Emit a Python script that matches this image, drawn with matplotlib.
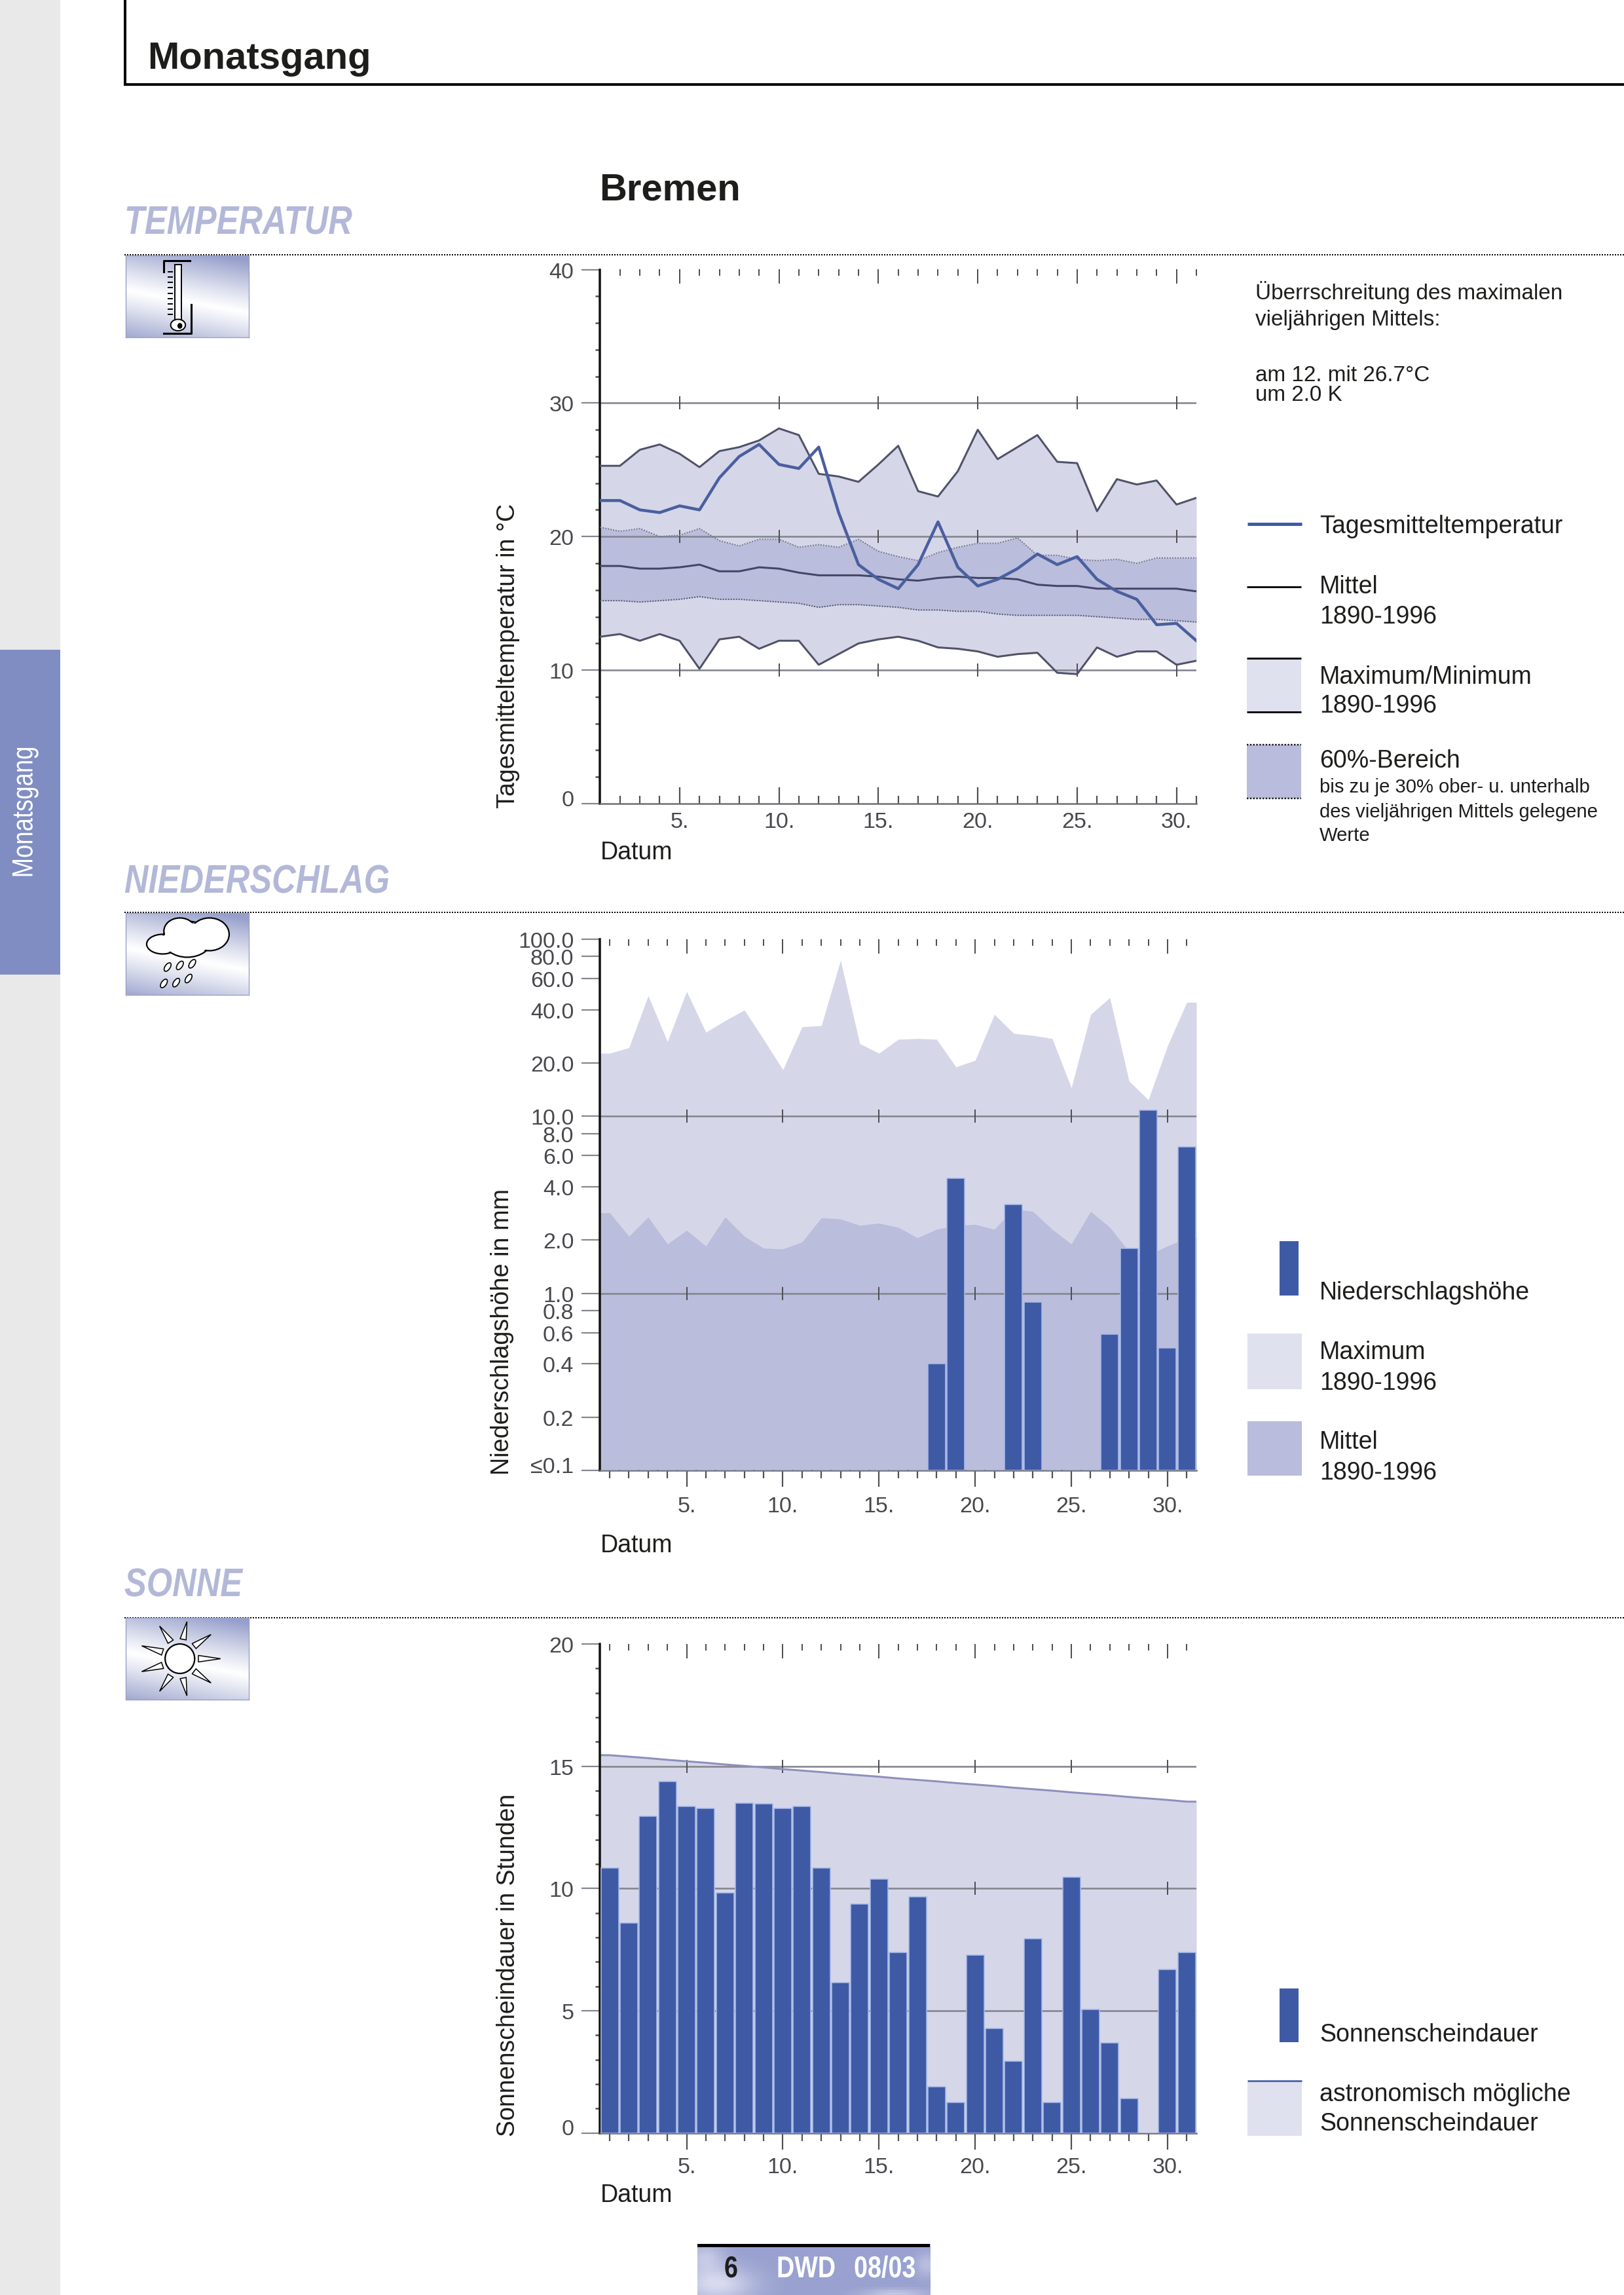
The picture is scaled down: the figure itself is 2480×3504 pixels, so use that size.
import numpy as np
import matplotlib
matplotlib.use("Agg")
import matplotlib.pyplot as plt
from matplotlib.patches import Rectangle, Ellipse, Polygon
from matplotlib.patheffects import AbstractPathEffect
from matplotlib.transforms import Affine2D, ScaledTranslation

W, H, DPI = 2480, 3505, 100
plt.rcParams["font.family"] = ["Liberation Sans", "DejaVu Sans"]

# ---------- data ----------
days = list(range(1, 32))
major_days = [5, 10, 15, 20, 25, 30]
major_labels = ["5.", "10.", "15.", "20.", "25.", "30."]

temp_max = [25.3, 25.3, 26.5, 26.9, 26.2, 25.2, 26.4, 26.7, 27.2, 28.1, 27.6, 24.7, 24.5, 24.1, 25.4, 26.8,
            23.4, 23.0, 24.9, 28.0, 25.8, 26.7, 27.6, 25.6, 25.5, 21.9, 24.3, 23.9, 24.2, 22.4, 22.9]
temp_upper = [20.7, 20.4, 20.6, 20.0, 20.1, 20.6, 19.7, 19.3, 19.8, 19.8, 19.2, 19.4, 19.2, 19.8, 18.9, 18.5,
              18.2, 18.8, 19.2, 19.5, 19.5, 19.9, 18.6, 18.6, 18.3, 18.2, 18.3, 18.0, 18.4, 18.4, 18.4]
temp_mean = [17.8, 17.8, 17.6, 17.6, 17.7, 17.9, 17.4, 17.4, 17.7, 17.6, 17.3, 17.1, 17.1, 17.1, 17.0, 16.8,
             16.7, 16.9, 17.0, 16.9, 16.9, 16.8, 16.4, 16.3, 16.3, 16.1, 16.1, 16.1, 16.1, 16.1, 15.9]
temp_lower = [15.2, 15.2, 15.1, 15.2, 15.3, 15.5, 15.3, 15.3, 15.2, 15.1, 15.0, 14.7, 14.9, 14.9, 14.8, 14.7,
              14.5, 14.5, 14.4, 14.4, 14.2, 14.1, 14.1, 14.1, 14.1, 14.0, 13.9, 13.8, 13.8, 13.7, 13.6]
temp_min = [12.5, 12.7, 12.2, 12.7, 12.2, 10.1, 12.3, 12.5, 11.6, 12.2, 12.2, 10.4, 11.2, 12.0, 12.3, 12.5,
            12.2, 11.7, 11.6, 11.4, 11.0, 11.2, 11.3, 9.8, 9.7, 11.7, 11.0, 11.4, 11.4, 10.4, 10.7]
temp_day = [22.7, 22.7, 22.0, 21.8, 22.3, 22.0, 24.4, 26.0, 26.9, 25.4, 25.1, 26.7, 21.8, 17.9, 16.8, 16.1,
            17.9, 21.1, 17.7, 16.3, 16.8, 17.6, 18.7, 17.9, 18.5, 16.8, 15.9, 15.3, 13.4, 13.5, 12.2]
temp_major = [0, 10, 20, 30, 40]
temp_minor = [2, 4, 6, 8, 12, 14, 16, 18, 22, 24, 26, 28, 32, 34, 36, 38]
temp_grid = [10, 20, 30]

rain_max = [22.7, 24.4, 48, 26.4, 50.7, 29.8, 34.7, 39.8, 27.2, 18.3, 32, 32.5, 76, 25.7, 22.7, 27.2,
            27.5, 27.2, 19, 20.7, 37.6, 29.4, 28.6, 27.5, 14.5, 37.6, 46.8, 15.8, 12.4, 25, 44]
rain_mean = [2.85, 2.1, 2.7, 1.9, 2.27, 1.85, 2.7, 2.1, 1.8, 1.78, 1.95, 2.67, 2.63, 2.42, 2.49, 2.36,
             2.06, 2.3, 2.42, 2.45, 2.3, 3.0, 2.9, 2.3, 1.9, 2.9, 2.36, 1.72, 1.65, 1.85, 2.06]
rain_day = [0.1] * 17 + [0.4, 4.45, 0.1, 0.1, 3.18, 0.89, 0.1, 0.1, 0.1, 0.59, 1.8, 10.8, 0.49, 6.7]
rain_ticks = [0.1, 0.2, 0.4, 0.6, 0.8, 1, 2, 4, 6, 8, 10, 20, 40, 60, 80, 100]
rain_labels = ["\u22640.1", "0.2", "0.4", "0.6", "0.8", "1.0", "2.0", "4.0", "6.0", "8.0", "10.0",
               "20.0", "40.0", "60.0", "80.0", "100.0"]
rain_grid = [1, 10]

sun_day = [10.85, 8.6, 12.96, 14.37, 13.35, 13.28, 9.83, 13.5, 13.46, 13.28, 13.35, 10.85, 6.14, 9.36, 10.38, 7.37,
           9.67, 1.88, 1.25, 7.27, 4.26, 2.93, 7.95, 1.25, 10.45, 5.05, 3.68, 1.4, 0, 6.69, 7.37]
sun_astro = [15.45, 15.39, 15.33, 15.26, 15.2, 15.14, 15.07, 15.01, 14.95, 14.88, 14.82, 14.76, 14.69, 14.63, 14.57,
             14.5, 14.44, 14.38, 14.31, 14.25, 14.19, 14.12, 14.06, 14.0, 13.93, 13.87, 13.81, 13.74, 13.68, 13.62,
             13.55]
sun_major = [0, 5, 10, 15, 20]
sun_minor = [1, 2, 3, 4, 6, 7, 8, 9, 11, 12, 13, 14, 16, 17, 18, 19]
sun_grid = [5, 10, 15]

# ---------- colours ----------
C_MAX = "#d5d7e9"
C_60 = "#babddb"
C_BLUE = "#3f5aa5"
C_HALO = "#a9bbe8"
C_GRID = "#85858f"
C_TICK = "#4f4f55"
C_LAB = "#47474c"
C_HEAD = "#b3b8d8"
C_LEG1 = "#e0e1ee"
C_LEG2 = "#b9bcdc"


def pxpt(p):
    return p * 72 / DPI


class Squeeze(AbstractPathEffect):
    """Condense a text about an anchor line, as no narrow face is installed."""

    def __init__(self, sx=1.0, sy=1.0, x0=0.0, y0=0.0):
        super().__init__()
        self.t = Affine2D().translate(-x0, -y0).scale(sx, sy).translate(x0, y0)

    def draw_path(self, renderer, gc, tpath, affine, rgbFace=None):
        renderer.draw_path(gc, tpath, affine + self.t, rgbFace)


fig = plt.figure(figsize=(W / DPI, H / DPI), dpi=DPI, facecolor="white")
page = fig.add_axes([0, 0, 1, 1], zorder=0)
page.set_xlim(0, W)
page.set_ylim(H, 0)
page.axis("off")


def T(x, y, s, px, **kw):
    kw.setdefault("va", "baseline")
    kw.setdefault("color", "#1d1d1b")
    return page.text(x, y, s, fontsize=pxpt(px), **kw)


# ---------- page furniture ----------
page.add_patch(Rectangle((0, 0), 92, H, fc="#e9e9e9", ec="none"))
page.add_patch(Rectangle((0, 993), 92, 496, fc="#7f8dc3", ec="none"))
T(38, 1241, "Monatsgang", 44.5, color="white", rotation=90, ha="center", va="center",
  path_effects=[Squeeze(sy=0.82, y0=H - 1241)])
page.plot([191, 191], [0, 130], color="black", lw=pxpt(4), solid_capstyle="butt")
page.plot([189, W], [130, 130], color="black", lw=pxpt(4), solid_capstyle="butt")
T(225, 105, "Monatsgang", 58, weight="bold")
T(915, 306, "Bremen", 58, weight="bold")

for label, base, rule in [("TEMPERATUR", 358, 390), ("NIEDERSCHLAG", 1364, 1394), ("SONNE", 2438, 2471)]:
    T(190, base, label, 61, weight="bold", style="italic", color=C_HEAD,
      path_effects=[Squeeze(sx=0.83, x0=190)])
    page.plot([190, W], [rule, rule], color="black", lw=pxpt(2), ls=(0, (1, 1)))


def icon(y0):
    ax = fig.add_axes([192 / W, 1 - (y0 + 125) / H, 188 / W, 125 / H], zorder=1)
    u, v = np.meshgrid(np.linspace(0, 1, 120), np.linspace(0, 1, 80))
    t = np.clip(np.abs(0.78 * v + 0.22 * (1 - u) - 0.55) * 2.0, 0, 1) ** 1.1
    c0, c1 = np.array([1, 1, 1.0]), np.array([0x96, 0x9f, 0xcb]) / 255
    ax.imshow(c0 + (c1 - c0) * t[..., None], extent=(0, 1, 1, 0), aspect="auto")
    ax.set_xlim(0, 1)
    ax.set_ylim(1, 0)
    ax.set_xticks([])
    ax.set_yticks([])
    for s in ax.spines.values():
        s.set_color("#9aa0c8")
        s.set_linewidth(1)
    return ax


# thermometer
a = icon(391)
a.plot([0.31, 0.31, 0.52], [0.2, 0.06, 0.06], color="black", lw=2.2)
a.plot([0.31, 0.53, 0.53], [0.95, 0.95, 0.6], color="black", lw=2.2)
a.add_patch(Rectangle((0.40, 0.11), 0.05, 0.7, fc="white", ec="black", lw=1.4))
a.add_patch(Ellipse((0.425, 0.85), 0.12, 0.14, fc="white", ec="black", lw=1.4))
a.add_patch(Ellipse((0.44, 0.86), 0.04, 0.07, fc="black", ec="none"))
for yy in np.arange(0.2, 0.76, 0.065):
    a.plot([0.345, 0.375], [yy, yy], color="black", lw=1.4)

# cloud and rain
a = icon(1395)
for cx, cy, rx, ry in [(0.30, 0.38, 0.13, 0.12), (0.50, 0.32, 0.2, 0.22), (0.68, 0.26, 0.16, 0.2),
                       (0.44, 0.22, 0.13, 0.16)]:
    a.add_patch(Ellipse((cx, cy), 2 * rx, 2 * ry, fc="white", ec="black", lw=1.6))
for cx, cy, rx, ry in [(0.30, 0.38, 0.12, 0.105), (0.50, 0.32, 0.19, 0.2), (0.68, 0.26, 0.15, 0.18),
                       (0.44, 0.22, 0.12, 0.145)]:
    a.add_patch(Ellipse((cx, cy), 2 * rx, 2 * ry, fc="white", ec="none"))
for cx, cy in [(0.34, 0.66), (0.44, 0.64), (0.54, 0.62), (0.31, 0.86), (0.41, 0.85), (0.51, 0.80)]:
    a.add_patch(Ellipse((cx, cy), 0.045, 0.11, angle=20, fc="white", ec="black", lw=1.2))

# sun
a = icon(2471)
a.add_patch(Ellipse((0.44, 0.5), 0.24, 0.36, fc="white", ec="black", lw=1.6))
for ang in np.arange(0, 360, 40):
    r = np.radians(ang)
    dx, dy = np.cos(r), np.sin(r)
    nx, ny = -dy, dx
    pts = [(0.44 + 0.15 * dx + 0.025 * nx, 0.5 + 0.24 * dy + 0.04 * ny),
           (0.44 + 0.33 * dx, 0.5 + 0.46 * dy),
           (0.44 + 0.15 * dx - 0.025 * nx, 0.5 + 0.24 * dy - 0.04 * ny)]
    a.add_patch(Polygon(pts, fc="white", ec="black", lw=1.1))

# footer
fa = fig.add_axes([1065 / W, 0, 355 / W, (H - 3427) / H], zorder=1)
u, v = np.meshgrid(np.linspace(0, 1, 90), np.linspace(0, 1, 20))
cloud = (0.85 * np.exp(-(((u - 0.08) / 0.16) ** 2 + ((v - 0.8) / 0.35) ** 2))
         + 0.55 * np.exp(-(((u - 0.03) / 0.08) ** 2 + ((v - 0.25) / 0.3) ** 2))
         + 0.55 * np.exp(-(((u - 0.85) / 0.14) ** 2 + ((v - 1.0) / 0.1) ** 2))
         + 0.45 * np.exp(-(((u - 0.99) / 0.05) ** 2 + ((v - 0.4) / 0.25) ** 2)))
cloud = np.clip(cloud, 0, 1)
c0, c1 = np.array([0x98, 0xa1, 0xcf]) / 255, np.array([0xe4, 0xe4, 0xf4]) / 255
fa.imshow(c0 + (c1 - c0) * cloud[..., None], extent=(0, 1, 1, 0), aspect="auto")
fa.axis("off")
txt = fig.add_axes([0, 0, 1, 1], zorder=5)
txt.set_xlim(0, W)
txt.set_ylim(H, 0)
txt.axis("off")
txt.add_patch(Rectangle((1065, 3427), 355, 5, fc="black", ec="none"))
for xt, st, ct in [(1106, "6", "#1d1d1b"), (1186, "DWD", "white"), (1304, "08/03", "white")]:
    txt.text(xt, 3478, st, fontsize=pxpt(46), weight="bold", color=ct, va="baseline",
             path_effects=[Squeeze(sx=0.82, x0=xt)])


# ---------- chart helpers ----------
def make_axes(x0, y0, x1, y1):
    ax = fig.add_axes([x0 / W, 1 - y1 / H, (x1 - x0) / W, (y1 - y0) / H], zorder=2)
    ax.patch.set_alpha(0)
    for s in ("top", "right"):
        ax.spines[s].set_visible(False)
    ax.spines["left"].set_linewidth(pxpt(3.5))
    ax.spines["left"].set_color("#111111")
    ax.spines["bottom"].set_linewidth(pxpt(2.5))
    ax.spines["bottom"].set_color("#6e6e74")
    return ax


def style_axis(ax, direction, labelpad):
    ax.set_xticks(major_days)
    ax.set_xticklabels(major_labels)
    ax.set_xticks(days, minor=True)
    ax.tick_params(axis="x", which="major", direction=direction, length=pxpt(25), width=pxpt(2.2),
                   color=C_TICK, labelsize=pxpt(34), labelcolor=C_LAB, pad=pxpt(labelpad))
    ax.tick_params(axis="x", which="minor", direction=direction, length=pxpt(12), width=pxpt(2.2), color=C_TICK)
    ax.tick_params(axis="y", which="major", direction="out", length=pxpt(28), width=pxpt(2.2), color=C_GRID,
                   labelsize=pxpt(34), labelcolor=C_LAB, pad=pxpt(12))
    ax.tick_params(axis="y", which="minor", direction="out", length=pxpt(7), width=pxpt(2.5), color=C_TICK)
    first = ax.get_yticklabels()[0]
    first.set_transform(first.get_transform() + ScaledTranslation(0, 9 / DPI, fig.dpi_scale_trans))
    sec = ax.secondary_xaxis("top")
    sec.set_xticks(major_days)
    sec.set_xticks(days, minor=True)
    sec.spines["top"].set_visible(False)
    sec.tick_params(axis="x", which="major", direction="in", length=pxpt(22), width=pxpt(2), color=C_TICK,
                    labeltop=False)
    sec.tick_params(axis="x", which="minor", direction="in", length=pxpt(10), width=pxpt(2), color=C_TICK)


def grid_lines(ax, levels):
    for g in levels:
        ax.axhline(g, color=C_GRID, lw=pxpt(2.6), zorder=2)
        ax.plot(major_days, [g] * len(major_days), ls="", marker="|", ms=pxpt(20), mew=pxpt(2),
                color=C_TICK, zorder=2)


def wide(values):
    """repeat first and last daily value out to the axis edges"""
    return [0.5] + days + [31.5], [values[0]] + list(values) + [values[-1]]


# ---------- temperature ----------
ax = make_axes(916.4, 412.5, 1827, 1228)
ax.set_xlim(1, 31)
ax.set_ylim(0, 40)
ax.fill_between(days, temp_min, temp_max, color=C_MAX, lw=0, zorder=1)
ax.fill_between(days, temp_lower, temp_upper, color=C_60, lw=0, zorder=1.5)
grid_lines(ax, temp_grid)
ax.plot(days, temp_upper, color="#77778c", lw=pxpt(2), ls=(0, (1, 1)), zorder=3)
ax.plot(days, temp_lower, color="#55556a", lw=pxpt(2), ls=(0, (1, 1)), zorder=3)
ax.plot(days, temp_max, color="#505268", lw=pxpt(3), zorder=3)
ax.plot(days, temp_min, color="#505268", lw=pxpt(3), zorder=3)
ax.plot(days, temp_mean, color="#43466a", lw=pxpt(3), zorder=3)
ax.plot(days, temp_day, color="#4a5f9f", lw=pxpt(4.5), zorder=4)
ax.set_yticks(temp_major)
ax.set_yticks(temp_minor, minor=True)
style_axis(ax, "in", 12)
T(776, 1234, "Tagesmitteltemperatur in \u00b0C", 37.6, rotation=90, ha="center", va="bottom")
T(917, 1312, "Datum", 37.5)

# ---------- precipitation ----------
ax = make_axes(916.4, 1435, 1827, 2246)
ax.set_xlim(0.5, 31.5)
ax.set_yscale("log")
ax.set_ylim(0.1, 100)
ax.fill_between(*wide(rain_max), 0.1, color=C_MAX, lw=0, zorder=1)
ax.fill_between(*wide(rain_mean), 0.1, color=C_60, lw=0, zorder=1.5)
grid_lines(ax, rain_grid)
ax.bar(days, np.array(rain_day) - 0.1, bottom=0.1, width=0.92, color=C_BLUE, ec=C_HALO, lw=pxpt(1.6), zorder=3)
ax.set_yticks(rain_ticks)
ax.set_yticklabels(rain_labels)
ax.yaxis.set_minor_locator(matplotlib.ticker.NullLocator())
style_axis(ax, "out", 14)
T(767, 2252, "Niederschlagsh\u00f6he in mm", 37.8, rotation=90, ha="center", va="bottom")
T(917, 2370, "Datum", 37.5)

# ---------- sunshine ----------
ax = make_axes(916.4, 2511, 1827, 3257.5)
ax.set_xlim(0.5, 31.5)
ax.set_ylim(0, 20)
ax.fill_between(*wide(sun_astro), 0, color=C_MAX, lw=0, zorder=1)
grid_lines(ax, sun_grid)
ax.plot(*wide(sun_astro), color="#8d90bb", lw=pxpt(3), zorder=2.5)
ax.bar(days, sun_day, width=0.92, color=C_BLUE, ec=C_HALO, lw=pxpt(1.6), zorder=3)
ax.set_yticks(sun_major)
ax.set_yticks(sun_minor, minor=True)
style_axis(ax, "out", 12)
T(776, 3262, "Sonnenscheindauer in Stunden", 37.5, rotation=90, ha="center", va="bottom")
T(917, 3362, "Datum", 37.5)

# ---------- right-hand notes and legends ----------
T(1917, 457, "\u00dcberrschreitung des maximalen", 33.3)
T(1917, 497, "vielj\u00e4hrigen Mittels:", 33.3)
T(1917, 582, "am 12. mit 26.7\u00b0C", 33.3)
T(1917, 612, "um 2.0 K", 33.3)

page.plot([1905, 1988], [801, 801], color=C_BLUE, lw=pxpt(5), solid_capstyle="butt")
T(2015, 814, "Tagesmitteltemperatur", 37.5)
page.plot([1904, 1987], [897, 897], color="#111111", lw=pxpt(3), solid_capstyle="butt")
T(2015, 906, "Mittel", 37.5)
T(2015, 952, "1890-1996", 37.5)
page.add_patch(Rectangle((1904, 1006), 83, 82, fc=C_LEG1, ec="none"))
page.plot([1904, 1987], [1006, 1006], color="#111111", lw=pxpt(3), solid_capstyle="butt")
page.plot([1904, 1987], [1088, 1088], color="#111111", lw=pxpt(3), solid_capstyle="butt")
T(2015, 1044, "Maximum/Minimum", 37.5)
T(2015, 1088, "1890-1996", 37.5)
page.add_patch(Rectangle((1904, 1138), 83, 82, fc=C_LEG2, ec="none"))
page.plot([1904, 1987], [1138, 1138], color="#111111", lw=pxpt(2.4), ls=(0, (1, 1)))
page.plot([1904, 1987], [1220, 1220], color="#111111", lw=pxpt(2.4), ls=(0, (1, 1)))
T(2015, 1172, "60%-Bereich", 37.5)
T(2015, 1210, "bis zu je 30% ober- u. unterhalb", 29.3)
T(2015, 1248, "des vielj\u00e4hrigen Mittels gelegene", 29.3)
T(2015, 1284, "Werte", 29.3)

page.add_patch(Rectangle((1954, 1896), 29, 83, fc=C_BLUE, ec="none"))
T(2015, 1984, "Niederschlagsh\u00f6he", 37.5)
page.add_patch(Rectangle((1905, 2037), 83, 85, fc=C_LEG1, ec="none"))
T(2015, 2075, "Maximum", 37.5)
T(2015, 2122, "1890-1996", 37.5)
page.add_patch(Rectangle((1905, 2171), 83, 83, fc=C_LEG2, ec="none"))
T(2015, 2212, "Mittel", 37.5)
T(2015, 2259, "1890-1996", 37.5)

page.add_patch(Rectangle((1954, 3037), 29, 82, fc=C_BLUE, ec="none"))
T(2015, 3117, "Sonnenscheindauer", 37.5)
page.add_patch(Rectangle((1905, 3178), 83, 84, fc=C_LEG1, ec="none"))
page.plot([1905, 1988], [3178, 3178], color=C_BLUE, lw=pxpt(2.6), solid_capstyle="butt")
T(2015, 3208, "astronomisch m\u00f6gliche", 37.5)
T(2015, 3253, "Sonnenscheindauer", 37.5)

fig.savefig("out.png", dpi=DPI, facecolor="white")
